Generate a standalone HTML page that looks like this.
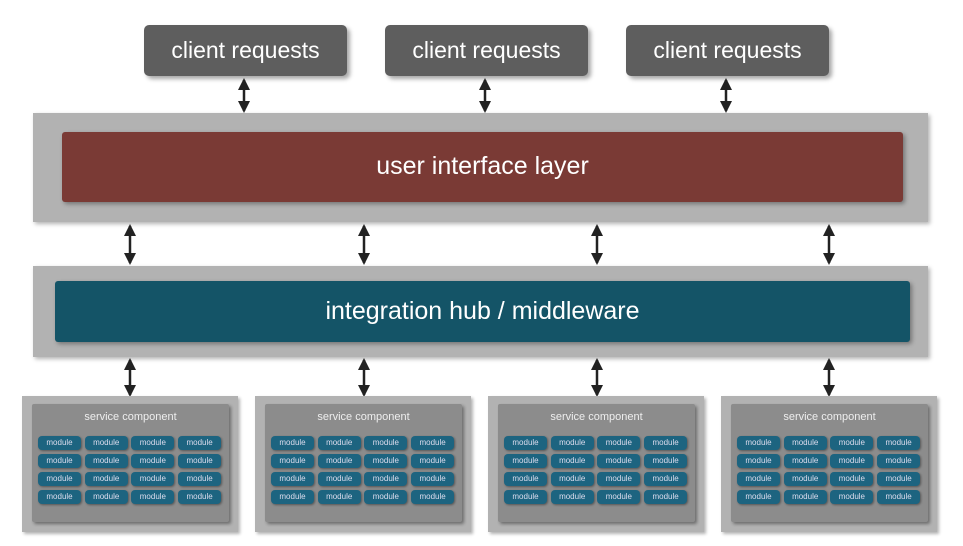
<!DOCTYPE html>
<html><head><meta charset="utf-8"><style>
body{margin:0;width:963px;height:546px;background:#fff;position:relative;overflow:hidden;font-family:"Liberation Sans",sans-serif}
div{position:absolute;box-sizing:border-box}
.cr{background:#5e5e5e;color:#fff;font-size:23px;text-align:center;line-height:50px;border-radius:5px;box-shadow:3px 3px 4px rgba(0,0,0,.35);width:203px;height:51px;top:25px}
.outer{background:#b2b2b2;box-shadow:2px 2px 4px rgba(0,0,0,.3)}
.sc{background:#b2b2b2;top:396px;width:216px;height:136px;box-shadow:2px 2px 3px rgba(0,0,0,.3)}
.in{background:#8c8c8c;left:10px;top:8px;width:197px;height:118px;box-shadow:2px 2px 3px rgba(0,0,0,.4);border-radius:2px}
.in .t{position:absolute;left:0;right:0;top:7px;text-align:center;color:#eee;font-size:11px}
.m{background:#1d6480;color:#dde;font-size:8px;text-align:center;line-height:14px;width:43px;height:14px;border-radius:4px;box-shadow:1px 1px 2px rgba(0,0,0,.4)}
</style></head><body>
<div class="cr" style="left:144px">client requests</div>
<div class="cr" style="left:385px">client requests</div>
<div class="cr" style="left:626px">client requests</div>
<div class="outer" style="left:33px;top:113px;width:895px;height:109px"></div>
<div style="left:62px;top:132px;width:841px;height:70px;background:#7a3a35;color:#fff;font-size:25px;text-align:center;line-height:68px;border-radius:3px;box-shadow:2px 2px 4px rgba(0,0,0,.35)">user interface layer</div>
<div class="outer" style="left:33px;top:266px;width:895px;height:91px"></div>
<div style="left:55px;top:281px;width:855px;height:61px;background:#145467;color:#fff;font-size:25px;text-align:center;line-height:60px;border-radius:3px;box-shadow:2px 2px 4px rgba(0,0,0,.35)">integration hub / middleware</div>
<svg width="963" height="546" style="position:absolute;left:0;top:0">
<defs><marker id="a" markerWidth="12" markerHeight="12" refX="10" refY="6" orient="auto-start-reverse" markerUnits="userSpaceOnUse"><path d="M0,0L12,6L0,12z" fill="#222"/></marker></defs>
<g stroke="#222" stroke-width="2.5" marker-start="url(#a)" marker-end="url(#a)">
<line x1="244" y1="80" x2="244" y2="111"/><line x1="485" y1="80" x2="485" y2="111"/><line x1="726" y1="80" x2="726" y2="111"/>
<line x1="130" y1="226" x2="130" y2="263"/><line x1="364" y1="226" x2="364" y2="263"/><line x1="597" y1="226" x2="597" y2="263"/><line x1="829" y1="226" x2="829" y2="263"/>
<line x1="130" y1="360" x2="130" y2="395"/><line x1="364" y1="360" x2="364" y2="395"/><line x1="597" y1="360" x2="597" y2="395"/><line x1="829" y1="360" x2="829" y2="395"/>
</g></svg>
<div id="c"></div>
<script>
var xs=[22,255,488,721],h='';
xs.forEach(function(x){h+='<div class="sc" style="left:'+x+'px"><div class="in"><span class="t">service component</span>';
for(var r=0;r<4;r++)for(var c=0;c<4;c++)h+='<div class="m" style="left:'+(6+c*46.7)+'px;top:'+(32+r*18)+'px">module</div>';
h+='</div></div>';});
document.getElementById('c').outerHTML=h;
</script>
</body></html>
